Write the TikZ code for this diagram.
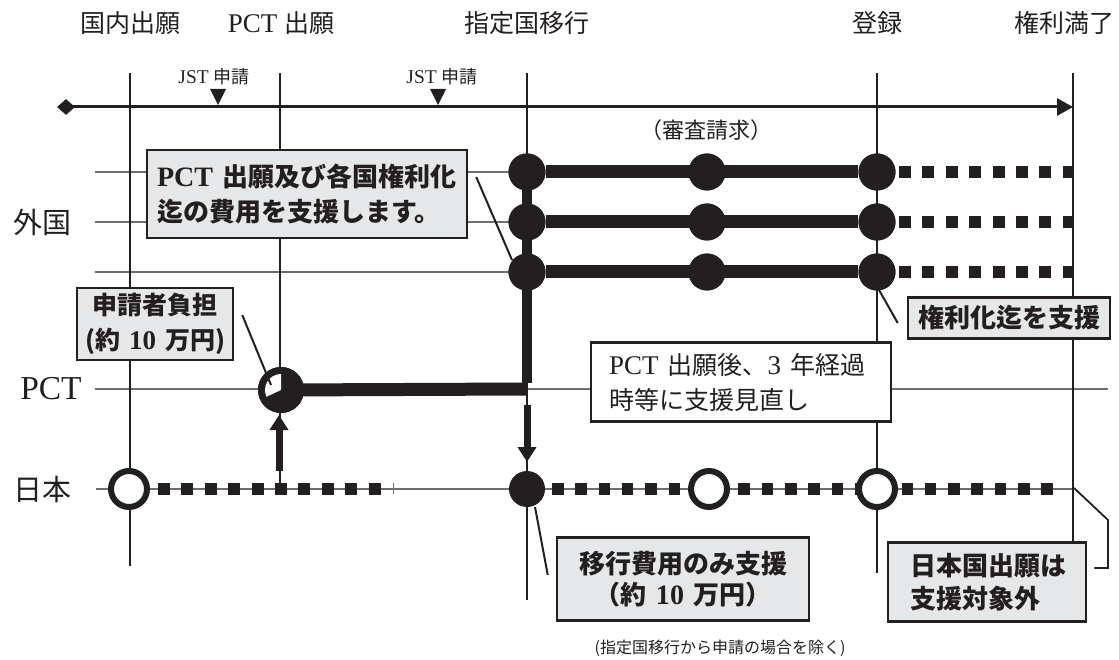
\documentclass[tikz,border=0pt]{standalone}
\usepackage{fontspec}
\setmainfont{Liberation Serif}[Scale=1.08]
\newfontfamily\jp{Noto Sans CJK JP}
\usetikzlibrary{arrows.meta,shapes.geometric}
\definecolor{ink}{HTML}{231F20}
\definecolor{boxgray}{HTML}{E6E7E8}
\definecolor{thingray}{HTML}{6D6E71}
\newcommand\J[1]{{\jp #1}}
\newcommand\JB[1]{{\jp\bfseries #1}}
\begin{document}
\begin{tikzpicture}[x=1pt,y=-1pt,
 vl/.style={ink, line width=2pt},
 gl/.style={thingray, line width=1.4pt},
 heavy/.style={ink, line width=13pt},
 sq/.style={ink, line width=12pt, dash pattern=on 12pt off 11.4pt},
 fdot/.style={circle, fill=ink, inner sep=0pt, minimum size=37pt},
 odot/.style={circle, draw=ink, line width=6pt, fill=white, inner sep=0pt, minimum size=36pt},
 lab/.style={inner sep=0pt, text=ink, font=\fontsize{25}{30}\selectfont},
 side/.style={inner sep=0pt, text=ink, font=\fontsize{29}{34}\selectfont},
 small/.style={inner sep=0pt, text=ink, font=\fontsize{18}{22}\selectfont},
 gbox/.style={draw=ink, line width=2.5pt, fill=boxgray, inner ysep=0pt, text=ink},
 wbox/.style={draw=ink, line width=2.2pt, fill=white, inner ysep=0pt, text=ink},
 callout/.style={ink, line width=2pt},
 arr/.style={ink, line width=7pt, -{Triangle[length=15pt,width=18pt]}},
 tri/.style={ink, fill=ink}
]
\useasboundingbox (0,0) rectangle (1119,660);

% ---- top labels
\node[lab] (t1) at (130,23) {\J{国内出願}};
\node[lab] (t2) at (281,23) {PCT \J{出願}};
\node[lab] (t3) at (527,23) {\J{指定国移行}};
\node[lab] (t4) at (877,23) {\J{登録}};
\node[lab] (t5) at (1064,23) {\J{権利満了}};
\node[small] (jst1) at (214,77) {JST \J{申請}};
\node[small] (jst2) at (442,77) {JST \J{申請}};
\node[small, font=\fontsize{22}{26}\selectfont] (shinsa) at (706,130) {\J{（審査請求）}};

% ---- side labels
\node[side] (sg) at (42,222) {\J{外国}};
\node[side, font=\fontsize{31}{36}\selectfont] (sp) at (51,389) {PCT};
\node[side] (sj) at (42,489) {\J{日本}};

% ---- thin horizontal lines
\coordinate (h1a) at (95,172); \coordinate (h1b) at (527,172);
\coordinate (h2a) at (95,222); \coordinate (h2b) at (527,222);
\coordinate (h3a) at (95,272); \coordinate (h3b) at (527,272);
\coordinate (hpa) at (95,389); \coordinate (hpb) at (1108,389);
\coordinate (hja) at (96,489); \coordinate (hjb) at (1073,489);
\draw[gl] (h1a) -- (h1b);
\draw[gl] (h2a) -- (h2b);
\draw[gl] (h3a) -- (h3b);
\draw[gl] (hpa) -- (hpb);
\draw[gl] (hja) -- (hjb);
\coordinate (tka) at (393,483); \coordinate (tkb) at (393,494);
\draw[gl, line width=1pt] (tka) -- (tkb);

% ---- vertical lines
\coordinate (v1a) at (130,73); \coordinate (v1b) at (130,566);
\coordinate (v2a) at (280,73); \coordinate (v2b) at (280,489);
\coordinate (v3a) at (527,73); \coordinate (v3b) at (527,600);
\coordinate (v4a) at (877,73); \coordinate (v4b) at (877,573);
\coordinate (v5a) at (1073,73); \coordinate (v5b) at (1073,542);
\draw[vl] (v1a) -- (v1b);
\draw[vl] (v2a) -- (v2b);
\draw[vl] (v3a) -- (v3b);
\draw[vl] (v4a) -- (v4b);
\draw[vl] (v5a) -- (v5b);

% ---- timeline
\node[diamond, fill=ink, inner sep=0pt, minimum width=18pt, minimum height=16pt] (dia) at (66,107) {};
\coordinate (tlend) at (1073,107);
\draw[ink, line width=3pt, -{Triangle[length=16pt,width=17pt]}] (dia.center) -- (tlend);
\fill[tri] (210,89) -- (226,89) -- (218,105) -- cycle;
\fill[tri] (430,89) -- (446,89) -- (438,105) -- cycle;

% ---- dots
\node[fdot] (f11) at (527,172) {};
\node[fdot] (f12) at (707,172) {};
\node[fdot] (f13) at (877,172) {};
\node[fdot] (f21) at (527,222) {};
\node[fdot] (f22) at (707,222) {};
\node[fdot] (f23) at (877,222) {};
\node[fdot] (f31) at (527,272) {};
\node[fdot] (f32) at (707,272) {};
\node[fdot] (f33) at (877,272) {};
\node[fdot, minimum size=46pt] (p) at (281,390) {};
\coordinate (pc) at (527,389);

% heavy lines
\draw[heavy] (f11) -- (f13);
\draw[heavy] (f21) -- (f23);
\draw[heavy] (f31) -- (f33);
\draw[heavy] (p.center) -- (pc);
\draw[ink, line width=10pt] (f11.center) -- ([yshift=6.5pt]pc);

% dashes
\coordinate (d1a) at (899,172); \coordinate (d1b) at (1073,172);
\coordinate (d2a) at (899,222); \coordinate (d2b) at (1073,222);
\coordinate (d3a) at (899,272); \coordinate (d3b) at (1073,272);
\draw[sq] (d1a) -- (d1b);
\draw[sq] (d2a) -- (d2b);
\draw[sq] (d3a) -- (d3b);
\coordinate (dja) at (158,489); \coordinate (djb) at (381,489);
\coordinate (djc) at (552,489); \coordinate (djd) at (1062,489);
\draw[sq] (dja) -- (djb);
\draw[sq, dash pattern=on 11.5pt off 11.8pt] (djc) -- (djd);

% redraw dots on top
\foreach \x/\y in {527/172,707/172,877/172,527/222,707/222,877/222,527/272,707/272,877/272}
  \fill[ink] (\x,\y) circle[radius=18.5pt];
\node[fdot, minimum size=46pt] at (p) {};
\fill[white] (p.center) -- ++(-90:16) arc[start angle=-90, end angle=-205, radius=16] -- cycle;

\node[odot] (j1) at (129,489) {};
\node[fdot, minimum size=36pt] (j2) at (527,489) {};
\node[odot] (j3) at (709,489) {};
\node[odot] (j4) at (877,489) {};

% arrows
\coordinate (da) at (527,405); \coordinate (db) at (527,462);
\draw[arr] (da) -- (db);
\coordinate (ua) at (279,471); \coordinate (ub) at (279,415);
\draw[arr] (ua) -- (ub);

% ---- boxes
\node[gbox, inner xsep=10pt, text width=300pt, minimum height=88pt, align=left,
      font=\fontsize{26}{35}\selectfont] (bA) at (307,194)
  {\textbf{PCT} \JB{出願及び各国権利化}\\\JB{迄の費用を支援します。}};
\node[gbox, inner xsep=6pt, text width=144pt, minimum height=72pt, align=center,
      font=\fontsize{25}{35}\selectfont] (bB) at (155,324)
  {\JB{申請者負担}\\\JB{(約} \textbf{10} \JB{万円)}};
\node[wbox, inner xsep=18pt, text width=264pt, minimum height=79pt, align=left,
      font=\fontsize{25}{35}\selectfont] (bC) at (741,382)
  {\mbox{PCT \J{出願後、}3 \J{年経過}}\\\J{時等に支援見直し}};
\node[gbox, inner xsep=6pt, text width=190pt, minimum height=41pt, align=center,
      font=\fontsize{26}{30}\selectfont] (bD) at (1009,318)
  {\JB{権利化迄を支援}};
\node[gbox, inner xsep=6pt, text width=240pt, minimum height=83pt, align=center,
      font=\fontsize{26}{31}\selectfont] (bE) at (683,579)
  {\JB{移行費用のみ支援}\\\JB{（約} \textbf{10} \JB{万円）}};
\node[gbox, inner xsep=22pt, text width=154pt, minimum height=79pt, align=left,
      font=\fontsize{26}{33}\selectfont] (bF) at (987,582)
  {\JB{日本国出願は}\\\JB{支援対象外}};

% ---- callouts
\coordinate (cA) at (512,260);
\draw[callout] ([xshift=8pt,yshift=17pt]bA.east) -- (cA);
\coordinate (cB) at (271,385);
\draw[callout] ([xshift=8pt,yshift=9pt]bB.east) -- (cB);
\coordinate (cD) at (879,290);
\draw[callout] ([xshift=-9pt,yshift=-5pt]bD.west) -- (cD);
\coordinate (cE) at (535,507);
\draw[callout] ([xshift=-8pt,yshift=4pt]bE.west) -- (cE);
\coordinate (k1) at (1074,488); \coordinate (k2) at (1108,520); \coordinate (k3) at (1108,568);
\draw[callout, line width=1.8pt] (k1) -- (k2) -- (k3) -- ([xshift=7pt,yshift=14pt]bF.east);

% ---- caption
\node[small, font=\fontsize{16}{20}\selectfont] (cap) at (720,648) {\J{(指定国移行から申請の場合を除く)}};
\end{tikzpicture}
\end{document}
